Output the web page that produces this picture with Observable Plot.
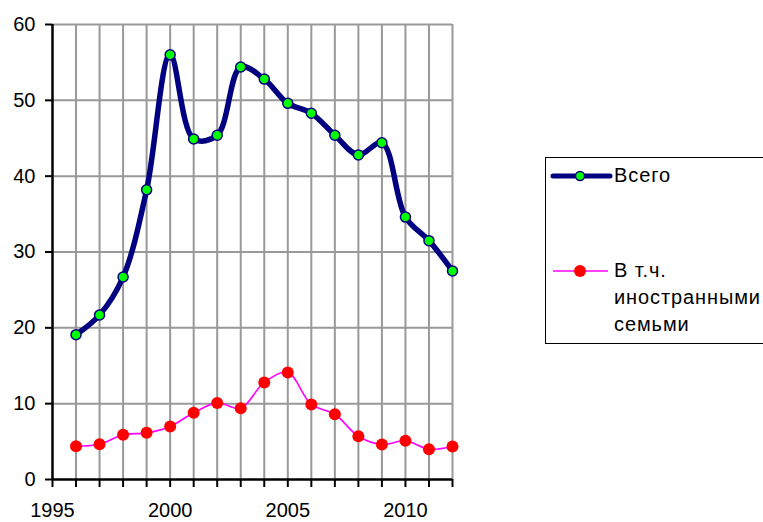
<!DOCTYPE html>
<html>
<head>
<meta charset="utf-8">
<script src="https://cdn.jsdelivr.net/npm/d3@7"></script>
<script src="https://cdn.jsdelivr.net/npm/@observablehq/plot@0.6"></script>
<style>
  html, body { margin: 0; padding: 0; background: #fff; }
  #wrap { position: relative; width: 763px; height: 522px; overflow: hidden; font-family: "Liberation Sans", Arial, sans-serif; }
  #legend { position: absolute; left: 545px; top: 157px; width: 260px; height: 187px; border: 1.5px solid #000; box-sizing: border-box; background: #fff; }
  #legend svg { position: absolute; left: 0; top: 0; }
  .lt { position: absolute; left: 68px; font-size: 20px; letter-spacing: 0.9px; line-height: 27px; color: #000; white-space: nowrap; }
</style>
</head>
<body>
<div id="wrap"></div>
<script>
const years = [1996, 1997, 1998, 1999, 2000, 2001, 2002, 2003, 2004, 2005, 2006, 2007, 2008, 2009, 2010, 2011, 2012];
const total = [19.1, 21.7, 26.7, 38.2, 56.0, 44.9, 45.4, 54.4, 52.8, 49.6, 48.3, 45.4, 42.8, 44.4, 34.6, 31.5, 27.5];
const foreign = [4.4, 4.65, 5.9, 6.15, 7.0, 8.8, 10.1, 9.4, 12.8, 14.1, 9.9, 8.6, 5.7, 4.6, 5.1, 4.0, 4.35];
const seriesNames = ["Всего", "В т.ч. иностранными семьми"];
const yTicks = [0, 10, 20, 30, 40, 50, 60];
const xTickLabels = [1995, 2000, 2005, 2010];

const dTotal = years.map((y, i) => ({year: y, value: total[i]}));
const dForeign = years.map((y, i) => ({year: y, value: foreign[i]}));

const chart = Plot.plot({
  width: 763,
  height: 522,
  marginLeft: 52,
  marginRight: 311,
  marginTop: 24,
  marginBottom: 43,
  style: {fontFamily: "'Liberation Sans', Arial, sans-serif", fontSize: "19px", color: "#000", background: "#fff"},
  x: {domain: [1995, 2012]},
  y: {domain: [0, 60]},
  marks: [
    Plot.gridX(years, {stroke: "#999", strokeOpacity: 1, strokeWidth: 2}),
    Plot.gridY(yTicks.filter(d => d > 0), {stroke: "#999", strokeOpacity: 1, strokeWidth: 2}),
    Plot.axisY({ticks: yTicks, tickSize: 7, tickPadding: 10, strokeWidth: 2, stroke: "#000", fontSize: 20, label: null}),
    Plot.axisX({ticks: [1995, ...years], tickSize: 8, tickPadding: 15, strokeWidth: 2, stroke: "#000", fontSize: 20, label: null,
      tickFormat: d => xTickLabels.includes(d) ? String(d) : ""}),
    Plot.ruleX([1995], {stroke: "#000", strokeWidth: 2.5}),
    Plot.ruleY([0], {stroke: "#000", strokeWidth: 2.5}),
    Plot.line(dForeign, {x: "year", y: "value", stroke: "#ff00ff", strokeWidth: 1.6, curve: "catmull-rom"}),
    Plot.dot(dForeign, {x: "year", y: "value", r: 6, fill: "#ff0000", stroke: "none"}),
    Plot.line(dTotal, {x: "year", y: "value", stroke: "#000080", strokeWidth: 5.5, curve: "catmull-rom"}),
    Plot.dot(dTotal, {x: "year", y: "value", r: 5, fill: "#00ff00", stroke: "#000080", strokeWidth: 1.5})
  ]
});
const wrap = document.getElementById("wrap");
wrap.appendChild(chart);

const legend = document.createElement("div");
legend.id = "legend";
legend.innerHTML = `
<svg width="70" height="187">
  <line x1="7" x2="64" y1="18" y2="18" stroke="#000080" stroke-width="5" stroke-linecap="round"/>
  <circle cx="34" cy="18" r="4.5" fill="#00ff00" stroke="#000080" stroke-width="1.5"/>
  <line x1="7" x2="62" y1="113" y2="113" stroke="#ff00ff" stroke-width="1.6"/>
  <circle cx="34" cy="113" r="6" fill="#ff0000"/>
</svg>
<div class="lt" style="top:4px">${seriesNames[0]}</div>
<div class="lt" style="top:99px">В т.ч.<br>иностранными<br>семьми</div>`;
wrap.appendChild(legend);
</script>
</body>
</html>
